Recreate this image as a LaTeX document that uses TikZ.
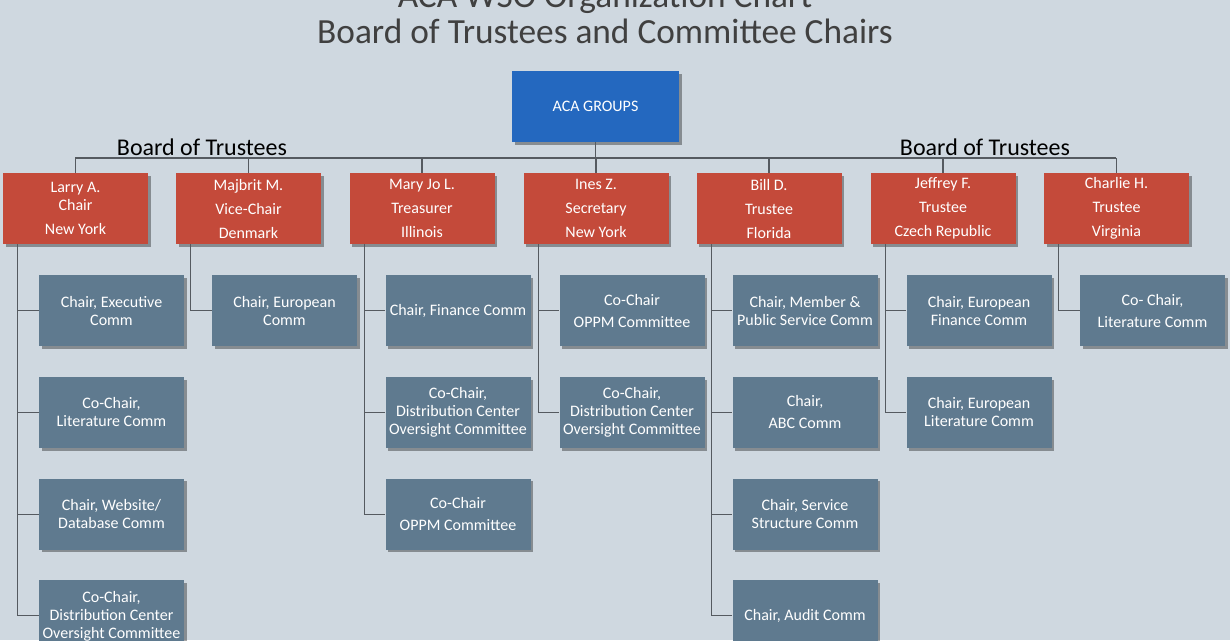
\documentclass[tikz,border=0pt]{standalone}
\usepackage{fontspec}
\setmainfont{Carlito}
\usetikzlibrary{shadows}
\definecolor{bg}{HTML}{CFD8E0}
\definecolor{topb}{HTML}{2468BF}
\definecolor{redb}{HTML}{C44A3A}
\definecolor{grayb}{HTML}{5F7A8F}
\definecolor{ln}{HTML}{555A60}
\begin{document}
\begin{tikzpicture}[x=0.75pt,y=-0.75pt,
  box/.style={draw=none,text=white,minimum width=108.75pt,minimum height=53.25pt,align=center,inner sep=1pt,
    font=\fontsize{12}{13.5}\selectfont,drop shadow={shadow xshift=2pt,shadow yshift=-2pt,opacity=0.35,fill=black}},
  trustee/.style={box,fill=redb,font=\fontsize{12}{18}\selectfont},
  comm/.style={box,fill=grayb},
  conn/.style={draw=ln,line width=0.9pt}]
\useasboundingbox[fill=bg] (0,0) rectangle (1230,640);
\node[text=black!75,align=center,font=\fontsize{26.5}{27}\selectfont] (title) at (605,13) {ACA WSO Organization Chart\\Board of Trustees and Committee Chairs};
\node[box,fill=topb,minimum width=125pt] (top) at (595.5,106.5) {ACA GROUPS};
\node[font=\fontsize{18}{20}\selectfont] (bl) at (202,147) {Board of Trustees};
\node[font=\fontsize{18}{20}\selectfont] (br) at (985,147) {Board of Trustees};
\coordinate (busL) at (75,158);
\coordinate (busR) at (1116,158);
\draw[conn] (busL) -- (busR);
\draw[conn] (top.south) -- (top.south |- busL);
\foreach \n/\x/\t in {
 t1/75.5/{Larry A.\\[-5pt]Chair\\New York},
 t2/248.5/{Majbrit M.\\Vice-Chair\\Denmark},
 t3/422/{Mary Jo L.\\Treasurer\\Illinois},
 t4/596/{Ines Z.\\Secretary\\New York},
 t5/769/{Bill D.\\Trustee\\Florida},
 t6/943/{Jeffrey F.\\Trustee\\Czech Republic},
 t7/1116.5/{Charlie H.\\Trustee\\Virginia}}{
 \node[trustee] (\n) at (\x,208.5) {\t};
 \draw[conn] (\n.north) -- (\n.north |- busL);
}
\foreach \p/\n/\r/\t in {
 t1/c11/1/{Chair, Executive\\Comm},
 t1/c12/2/{Co-Chair,\\Literature Comm},
 t1/c13/3/{Chair, Website/\\Database Comm},
 t1/c14/4/{Co-Chair,\\Distribution Center\\Oversight Committee},
 t2/c21/1/{Chair, European\\Comm},
 t3/c31/1/{Chair, Finance Comm},
 t3/c32/2/{Co-Chair,\\Distribution Center\\Oversight Committee},
 t3/c33/3/{Co-Chair\\[3pt]OPPM Committee},
 t4/c41/1/{Co-Chair\\[3pt]OPPM Committee},
 t4/c42/2/{Co-Chair,\\Distribution Center\\Oversight Committee},
 t5/c51/1/{Chair, Member \&\\Public Service Comm},
 t5/c52/2/{Chair,\\[3pt]ABC Comm},
 t5/c53/3/{Chair, Service\\Structure Comm},
 t5/c54/4/{Chair, Audit Comm},
 t6/c61/1/{Chair, European\\Finance Comm},
 t6/c62/2/{Chair, European\\Literature Comm},
 t7/c71/1/{Co- Chair,\\[3pt]Literature Comm}}{
 \path (\p.south west) ++(36,0) coordinate (tmp);
 \node[comm,anchor=north west] (\n) at (tmp |- 0,{275+(\r-1)*101.7}) {\t};
 \path (\p.south west) ++(15,0) coordinate (\n-v);
 \draw[conn] (\n-v) |- (\n.west);
}
\end{tikzpicture}
\end{document}
